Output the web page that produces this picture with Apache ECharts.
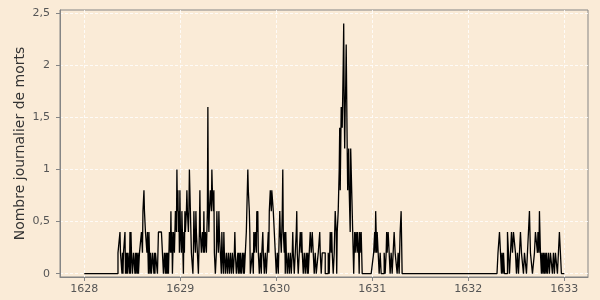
<!DOCTYPE html>
<html>
<head>
<meta charset="utf-8">
<script src="https://cdn.jsdelivr.net/npm/echarts@6/dist/echarts.min.js"></script>
<style>
  html, body { margin: 0; padding: 0; background: #FAEBD7; }
  #chart { width: 600px; height: 300px; }
</style>
</head>
<body>
<div id="chart"></div>
<script>
// Axis ticks
const xTicks = [1628, 1629, 1630, 1631, 1632, 1633];
const yTicks = [0, 0.5, 1, 1.5, 2, 2.5];

// Observation period (decimal years) and sampling step (days)
const periodStart = 1628.0;
const periodEnd = 1633.0;
const sampleDays = 1.9;

// First epidemic wave: starts ~May 1628
const wave1Start = 1628.351;
const wave1Values = [
  0.2,0.2, 0.2,0.2, 0.4,0.2, 0.2,0.2, 0,0.2, 0,0.2, 0.2,0.2, 0.4,0, 0.2,0, 0.2,0,
  0.2,0.2, 0.2,0, 0.4,0, 0.4,0.2, 0.2,0, 0,0.2, 0.2,0.2, 0,0.2, 0,0.2, 0.2,0,
  0.2,0, 0,0.2, 0.2,0.2, 0.2,0.4, 0.4,0.2, 0.6,0.6, 0.8,0.6, 0.6,0.4, 0.4,0.4, 0.2,0.4,
  0.2,0, 0.4,0.2, 0,0.2, 0.2,0, 0,0.2, 0.2,0.2, 0,0.2, 0,0.2, 0.2,0.2, 0.2,0,
  0,0.4, 0.4,0.4, 0.4,0.4, 0.4,0.4, 0.4,0.2, 0.2,0, 0,0.2, 0.2,0, 0.2,0, 0.2,0,
  0.2,0, 0.2,0.4, 0.4,0.2, 0.6,0.2, 0.4,0, 0.2,0.4, 0.4,0.2, 0.2,0.6, 0.6,0.4, 1.0,0.6,
  0.8,0.4, 0.6,0.2, 0.8,0.4, 0.4,0.2, 0.6,0.4, 0.2,0, 0.4,0.2, 0.6,0.4, 0.4,0.6, 0.8,0.6,
  0.6,0.4, 0.6,1.0, 1.0,1.0, 1.0,0.2, 0.2,0.2, 0,0.2, 0.6,0.4, 0.4,0.2, 0.6,0.4, 0.4,0.2,
  0.2,0, 0,0.4, 0.8,0.4, 0.4,0.2, 0.2,0.4, 0.4,0.2, 0.6,0.2, 0.2,0.4, 0.4,0.2, 0.2,0.6,
  1.6,0.6, 0.4,0.6, 0.6,0.8, 0.8,0.6, 1.0,0.8, 0.8,0.6, 0.8,0.2, 0.2,0, 0,0.2, 0.6,0.4,
  0.4,0.2, 0.6,0.4, 0.4,0.2, 0.2,0, 0.4,0.2, 0.2,0, 0.4,0.2, 0.2,0, 0,0.2, 0.2,0,
  0,0.2, 0.2,0, 0,0.2, 0.2,0, 0,0.2, 0.2,0, 0,0.2, 0.4,0.2, 0.2,0, 0,0,
  0.2,0, 0.2,0.2, 0,0.2, 0.2,0, 0,0.2, 0.2,0, 0.2,0, 0,0.2, 0.2,0.4, 0.6,0.8,
  1.0,0.8, 0.8,0.6, 0.4,0, 0,0, 0,0.2, 0.2,0, 0.4,0.2, 0.2,0.4, 0.4,0.2, 0.6,0.4,
  0.6,0.2, 0.2,0, 0,0.2, 0.2,0, 0.2,0.2, 0.4,0.2, 0.2,0, 0,0.2, 0.2,0, 0,0.2,
  0.2,0.4, 0.2,0.6, 0.6,0.8, 0.8,0.6, 0.8,0.8, 0.8,0.6, 0.6,0.4, 0.4,0.2, 0.2,0, 0,0.2,
  0.2,0, 0,0.4, 0.6,0.4, 0.4,0.2, 0.2,0.6, 1.0,0.4, 0.4,0.2, 0.4,0, 0.4,0.2, 0.2,0,
  0,0.2, 0.2,0, 0,0.2, 0.2,0, 0,0.2, 0.4,0.2, 0.2,0, 0,0.2, 0.2,0.4, 0.6,0.2,
  0.2,0, 0,0.2, 0.2,0.4, 0.4,0.2, 0.4,0.2, 0.2,0, 0,0.2, 0.2,0, 0,0.2, 0.2,0,
  0.2,0, 0,0.2, 0.2,0.4, 0.4,0.2, 0.2,0.4, 0.4,0.2, 0.2,0, 0,0.2, 0.2,0, 0,0,
  0,0.2, 0.2,0.2, 0.4,0.2, 0.2,0, 0,0.2, 0.2,0.2, 0.2,0.2, 0.2,0, 0,0, 0,0,
  0,0.2, 0.2,0, 0.2,0.4, 0.4,0.2, 0.4,0.2, 0.2,0, 0,0.2, 0.2,0.6, 0.6,0.4, 0,0.4,
  0.4,0.6, 0.6,1.0, 1.4,0.8, 0.8,1.6, 1.6,1.4, 1.4,2.0, 2.4,1.6, 1.2,1.6, 1.8,2.2, 2.2,1.2,
  0.8,1.0, 1.2,0.8, 0.8,0.4, 1.2,1.0, 0.8,0.6, 0.4,0.2, 0,0.2, 0.4,0.2, 0.2,0.4, 0.4,0.2,
  0.4,0.4, 0.2,0, 0.4,0.2, 0.2,0.4, 0.2,0, 0,0,
  0,0, 0,0, 0,0, 0,0, 0,0, 0,0, 0,0, 0,0, 0,0, 0,0,
  0.2,0.2, 0.4,0.2, 0.6,0.4, 0.2,0.4, 0.4,0.2, 0.2,0, 0,0.2, 0.2,0, 0,0, 0,0,
  0,0.2, 0.2,0, 0,0.2, 0.4,0.2, 0.2,0.4, 0.4,0.2, 0.2,0, 0,0.2, 0.2,0, 0,0.2,
  0.2,0.4, 0.4,0.2, 0.2,0.2, 0.2,0, 0,0.2, 0.2,0, 0,0.4, 0.4,0.6, 0.6,0, 0,0
];

// Second wave: starts ~April 1632
const wave2Start = 1632.299;
const wave2Values = [
  0,0, 0.2,0.2, 0.2,0.4, 0.4,0.2, 0.2,0, 0.2,0.2, 0,0.2, 0.2,0, 0,0, 0,0,
  0,0.4, 0.4,0.2, 0.2,0, 0,0.2, 0.2,0.4, 0.4,0.2, 0.2,0.4, 0.4,0.4, 0.4,0.2, 0.2,0,
  0,0.2, 0.2,0, 0,0.2, 0.2,0.4, 0.4,0.2, 0.2,0.2, 0.2,0, 0,0.2, 0.2,0.2, 0.2,0,
  0,0.2, 0.2,0.4, 0.4,0.6, 0.6,0.2, 0.2,0.2, 0.2,0, 0,0, 0,0.2, 0.2,0.4, 0.4,0.4,
  0.4,0.2, 0.4,0.4, 0.2,0.6, 0.6,0.2, 0.2,0, 0.2,0.2, 0,0.2, 0.2,0, 0.2,0.2, 0,0.2,
  0.2,0, 0,0.2, 0.2,0, 0,0.2, 0.2,0.2, 0.2,0, 0,0.2, 0.2,0, 0,0.2, 0.2,0.2,
  0.2,0, 0,0.2, 0.2,0.4, 0.4,0.4, 0.4,0, 0,0
];

const yearStep = sampleDays / 365.25;
function wavePoints(start, values) {
  return values.map((v, i) => [start + i * yearStep, v]);
}
const seriesData = [[periodStart, 0]]
  .concat(wavePoints(wave1Start, wave1Values))
  .concat(wavePoints(wave2Start, wave2Values))
  .concat([[periodEnd, 0]]);

const axisGray = '#858585';
const chart = echarts.init(document.getElementById('chart'), null, { renderer: 'canvas' });
chart.setOption({
  animation: false,
  backgroundColor: '#FAEBD7',
  grid: {
    left: 60, right: 12, top: 10, bottom: 23,
    show: true, borderColor: axisGray, borderWidth: 1, backgroundColor: '#FAEBD7'
  },
  xAxis: {
    type: 'value',
    min: 1627.747,
    max: 1633.247,
    axisLine: { show: true, onZero: false, lineStyle: { color: axisGray, width: 1 } },
    axisTick: { show: true, customValues: xTicks, length: 4, lineStyle: { color: axisGray } },
    axisLabel: {
      customValues: xTicks, margin: 7, color: '#555555', fontSize: 11,
      fontFamily: 'DejaVu Sans', formatter: v => String(Math.round(v))
    },
    splitLine: { show: true, lineStyle: { color: 'rgba(255,255,255,0.8)', type: [3, 2], width: 1 } }
  },
  yAxis: {
    type: 'value',
    min: -0.032,
    max: 2.53,
    name: 'Nombre journalier de morts',
    nameLocation: 'middle',
    nameGap: 33,
    nameMoveOverlap: false,
    nameTextStyle: { color: '#333333', fontSize: 14, fontFamily: 'DejaVu Sans' },
    axisLine: { show: true, lineStyle: { color: axisGray, width: 1 } },
    axisTick: { show: true, customValues: yTicks, length: 4, lineStyle: { color: axisGray } },
    axisLabel: {
      customValues: yTicks, margin: 10, color: '#555555', fontSize: 11,
      fontFamily: 'DejaVu Sans', formatter: v => String(v).replace('.', ',')
    },
    splitLine: { show: true, lineStyle: { color: 'rgba(255,255,255,0.8)', type: [3, 2], width: 1 } }
  },
  series: [{
    type: 'line',
    step: 'end',
    data: seriesData,
    showSymbol: false,
    lineStyle: { color: '#000000', width: 1.3 }
  }]
});
</script>
</body>
</html>
